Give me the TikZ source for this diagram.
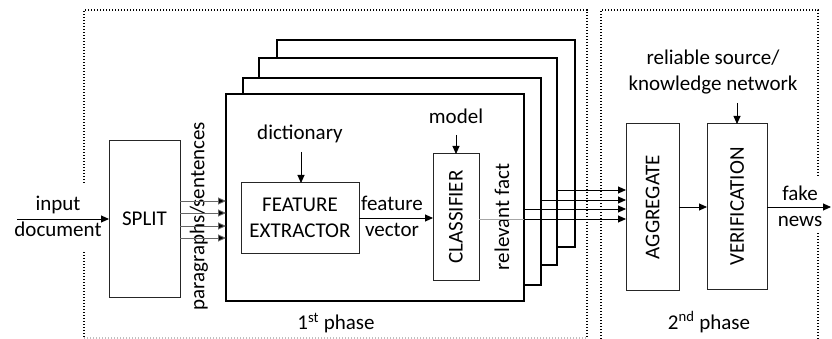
\documentclass[tikz,border=0pt]{standalone}
\usepackage{fontspec}
\setmainfont{Carlito}
\usetikzlibrary{arrows.meta}

\begin{document}
\begin{tikzpicture}[x=1pt,y=-1pt,
  every node/.style={font=\fontsize{21}{26}\selectfont, inner sep=0pt, outer sep=0pt},
  lbl/.style={align=center},
  blk/.style={draw=black!85, line width=1pt, fill=white},
  stackbox/.style={draw, line width=2pt, fill=white, anchor=north west,
    minimum width=298pt, minimum height=207pt},
  phase/.style={line width=1.3pt, dash pattern=on 1.2pt off 1.8pt},
  arr/.style={line width=0.9pt, -{Triangle[length=8pt,width=7pt]}},
  thinarr/.style={draw=black!60, line width=0.9pt, -{Triangle[length=8pt,width=7pt,fill=black]}}
]
\useasboundingbox (0,0) rectangle (832,339);

% dotted outlines of the two phases
\draw[phase] (84,183) -- (84,10) -- (587,10) -- (587,339);
\draw[phase] (84,252) -- (84,339);
\draw[phase, black!25] (84,338) -- (587,338);
\draw[phase] (601,339) -- (601,10) -- (818,10) -- (818,176);
\draw[phase] (818,233) -- (818,339);

% stack of per-segment processing frames, back to front
\node[stackbox] (b4) at (277,40) {};
\node[stackbox] (b3) at (259,58) {};
\node[stackbox] (b2) at (243,78) {};
\node[stackbox] (b1) at (226,94) {};

% processing blocks
\node[blk, minimum width=71pt, minimum height=156pt] (split) at (144.5,219) {SPLIT};
\node[blk, minimum width=118pt, minimum height=70pt, align=center] (fe) at (300,218) {FEATURE\\EXTRACTOR};
\node[blk, minimum width=46pt, minimum height=126pt] (cls) at (456,217) {};
\node[rotate=90] (clst) at (456,217) {CLASSIFIER};
\node[blk, minimum width=53pt, minimum height=166pt] (agg) at (652.5,207) {};
\node[rotate=90] (aggt) at (652.5,207) {AGGREGATE};
\node[blk, minimum width=60pt, minimum height=165pt] (ver) at (737,206.5) {};
\node[rotate=90] (vert) at (737,206.5) {VERIFICATION};

% labels
\node[lbl] (inp) at (58,216) {input\\document};
\node[rotate=90] (para) at (199,216) {paragraphs/sentences};
\node (dict) at (300,134) {dictionary};
\node[lbl] (fv) at (392,216) {feature\\vector};
\node (model) at (456,116) {model};
\node[rotate=90] (rel) at (502,217) {relevant fact};
\node[lbl] (rsrc) at (713,72) {reliable source/\\knowledge network};
\node[lbl] (fake) at (800,206) {fake\\news};
\node (p1) at (336,323) {1\textsuperscript{st} phase};
\node (p2) at (709,322) {2\textsuperscript{nd} phase};

% free ends of connectors
\coordinate (in0) at (17,219);
\coordinate (dict0) at (301,152);
\coordinate (model0) at (456,135);
\coordinate (rsrc0) at (737,103);
\coordinate (out0) at (831,207);
\coordinate (o1) at (557,190);
\coordinate (o2) at (540,200);
\coordinate (o3) at (524,209);
\coordinate (o4) at (524,219);

% connectors
\draw[arr] (in0) -- (split.west);
\foreach \dy in {18,6,-7,-19}
  \draw[thinarr] ([yshift=\dy pt]split.east) -- ([yshift=\dy pt]split.east -| b1.west);
\draw[arr] (dict0) -- (dict0 |- fe.north);
\draw[arr] (fe.east) -- (fe.east -| cls.west);
\draw[arr] (model0) -- (cls.north);
\draw[draw=black!35, line width=0.9pt] (cls.east |- o4) -- (o4);
\draw[arr] (o1) -- (o1 -| agg.west);
\draw[arr] (o2) -- (o2 -| agg.west);
\draw[arr] (o3) -- (o3 -| agg.west);
\draw[arr] (o4) -- (o4 -| agg.west);
\draw[arr] (agg.east) -- (agg.east -| ver.west);
\draw[arr] (rsrc0) -- (ver.north);
\draw[arr] (ver.east |- out0) -- (out0);
\end{tikzpicture}
\end{document}
